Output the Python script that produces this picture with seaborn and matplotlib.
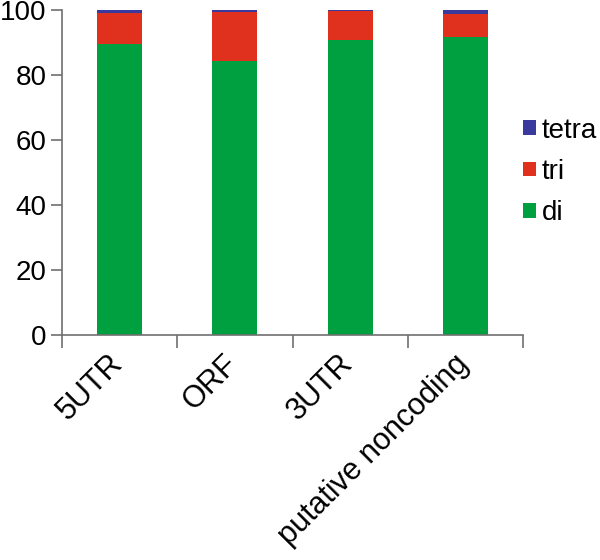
import numpy as np
import pandas as pd
import matplotlib
matplotlib.use('Agg')
import matplotlib.pyplot as plt
import matplotlib.transforms as mtransforms
import seaborn as sns

# Percent of repeats per region
regions = ['5UTR', 'ORF', '3UTR', 'putative noncoding']
di = [89.7, 84.3, 90.7, 91.7]
tri = [9.3, 15.1, 8.9, 7.2]
tetra = [1.0, 0.6, 0.4, 1.1]

colors = {'di': '#00a040', 'tri': '#e0301e', 'tetra': '#3a3a9e'}

sns.set_style('white', {'xtick.bottom': True, 'ytick.left': True,
                        'text.color': 'black', 'xtick.color': '#707070',
                        'ytick.color': '#707070'})
plt.rcParams['font.family'] = ['Liberation Sans', 'DejaVu Sans']

df = pd.DataFrame({'region': regions, 'di': di, 'tri': tri, 'tetra': tetra})
df['c_di'] = df['di']
df['c_tri'] = df['di'] + df['tri']
df['c_tetra'] = df['c_tri'] + df['tetra']

fig = plt.figure(figsize=(6, 5.6), dpi=100)
ax = fig.add_axes([0.1033, 0.4018, 0.7684, 0.58])

# stacked bars: draw the cumulative totals from the top down
for key in ['tetra', 'tri', 'di']:
    sns.barplot(data=df, x='region', y='c_' + key, color=colors[key],
                width=0.39, saturation=1, linewidth=0, ax=ax, label=key)

if ax.get_legend() is not None:
    ax.get_legend().remove()

ax.set_xlim(-0.5, 3.5)
ax.set_ylim(0, 100)
ax.set_yticks([0, 20, 40, 60, 80, 100])
ax.set_xlabel('')
ax.set_ylabel('')

# ticks on category boundaries, labels at bar centres
ax.set_xticks(np.arange(-0.5, 4.0, 1.0))
ax.set_xticklabels([])
ax.set_xticks(np.arange(len(regions)), minor=True)
ax.set_xticklabels(regions, minor=True, rotation=45, ha='right',
                   rotation_mode='anchor', fontsize=22)
ax.tick_params(axis='x', which='minor', length=0, pad=10, labelcolor='black')
ax.tick_params(axis='x', which='major', length=9, width=1.2, color='#707070')
ax.tick_params(axis='y', length=8, width=1.2, color='#707070', labelsize=20,
               pad=3, labelcolor='black')

shift = mtransforms.ScaledTranslation(-0.12, 0, fig.dpi_scale_trans)
for lab in ax.get_xticklabels(minor=True):
    lab.set_transform(lab.get_transform() + shift)

sns.despine(ax=ax)
for s in ['left', 'bottom']:
    ax.spines[s].set_color('#707070')
    ax.spines[s].set_linewidth(1.2)

handles, labels = ax.get_legend_handles_labels()
fig.legend(handles, labels, loc='center left', bbox_to_anchor=(0.872, 0.693),
           frameon=False, fontsize=20, handlelength=0.45, handleheight=0.45,
           handletextpad=0.22, labelspacing=0.55, borderpad=0, borderaxespad=0)

fig.savefig('out.png', dpi=100)
